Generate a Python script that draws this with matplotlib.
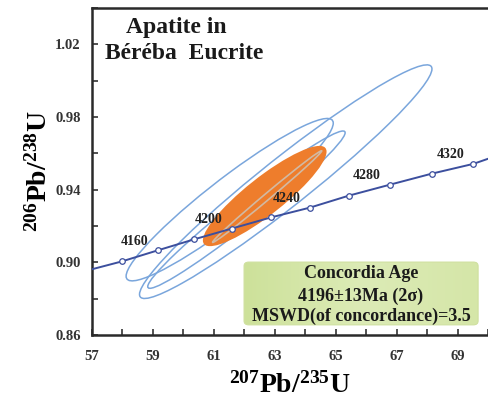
import numpy as np
import matplotlib
matplotlib.use("Agg")
import matplotlib.pyplot as plt
from matplotlib.patches import Ellipse, FancyBboxPatch
from matplotlib.ticker import MultipleLocator

plt.rcParams["font.family"] = ["Liberation Serif", "DejaVu Serif"]
plt.rcParams["font.weight"] = "bold"
plt.rcParams["mathtext.default"] = "regular"

# Concordia nodes (Ma)
ages = [4140, 4160, 4180, 4200, 4220, 4240, 4260, 4280, 4300, 4320]
node_x = [57.98, 59.16, 60.34, 61.59, 62.87, 64.15, 65.43, 66.77, 68.15, 69.52]
node_y = [0.9005, 0.9066, 0.9126, 0.9186, 0.9247, 0.9301, 0.9367, 0.9427, 0.9488, 0.9542]
labelled_ages = [4160, 4200, 4240, 4280, 4320]
# where the curve meets the frame
edge_x = [57.0, 70.0]
edge_y = [0.8962, 0.9570]

# data-point error ellipses: centre, half range in x / y, correlation
ell_cx = [63.36, 61.52, 62.07]
ell_cy = [0.9444, 0.9345, 0.9290]
ell_ex = [4.80, 3.40, 3.24]
ell_ey = [0.0643, 0.0447, 0.0433]
ell_rho = [0.965, 0.942, 0.978]

# concordia age ellipse (filled) and its thin grey outline
age_c = (62.67, 0.9365)
age_e = (2.03, 0.0276)
age_rho = 0.885
grey_c = (62.75, 0.9362)
grey_e = (1.79, 0.0252)
grey_rho = 0.996

box_lines = ["Concordia Age", "4196\u00b113Ma (2\u03c3)", "MSWD(of concordance)=3.5"]
box_line_y = [0.187, 0.118, 0.058]


def make_ellipse(cx, cy, ex, ey, rho, **kw):
    cov = np.array([[ex * ex, rho * ex * ey], [rho * ex * ey, ey * ey]])
    vals, vecs = np.linalg.eigh(cov)
    i = np.argmax(vals)
    angle = np.degrees(np.arctan2(vecs[1, i], vecs[0, i]))
    return Ellipse((cx, cy), 2 * np.sqrt(vals[i]), 2 * np.sqrt(vals[1 - i]),
                   angle=angle, **kw)


fig = plt.figure(figsize=(4.88, 4.0), dpi=100)
ax = fig.add_axes([92 / 488, 65 / 400, 396 / 488, 327 / 400])

ax.set_xlim(57, 70)
ax.set_ylim(0.86, 1.04)

# ellipses: blue data ellipses underneath, filled age ellipse on top
for cx, cy, ex, ey, r in zip(ell_cx, ell_cy, ell_ex, ell_ey, ell_rho):
    ax.add_patch(make_ellipse(cx, cy, ex, ey, r, facecolor="none",
                              edgecolor="#7aa6dc", lw=1.1, zorder=2))
ax.add_patch(make_ellipse(*age_c, *age_e, age_rho, facecolor="#ee7d2c",
                          edgecolor="none", zorder=3))
ax.add_patch(make_ellipse(*grey_c, *grey_e, grey_rho, facecolor="none",
                          edgecolor="#d2b9a2", lw=1.2, zorder=4))

# concordia curve
cx_all = [edge_x[0]] + node_x + [edge_x[1]]
cy_all = [edge_y[0]] + node_y + [edge_y[1]]
ax.plot(cx_all, cy_all, color="#3c4f9e", lw=1.4, zorder=5)
ax.plot(node_x, node_y, "o", ms=4, mfc="white", mec="#3c4f9e", mew=0.9, zorder=6)
for a, x, y in zip(ages, node_x, node_y):
    if a in labelled_ages:
        ax.annotate(str(a), (x, y), xytext=(-16.5, 6.5), textcoords="offset points",
                    ha="center", va="center", fontsize=10, fontweight="bold",
                    color="#222222", zorder=7)

# title
ax.text(0.212, 0.939, "Apatite in", transform=ax.transAxes, ha="center",
        va="center", fontsize=17, fontweight="bold", color="#1a1a1a")
ax.text(0.232, 0.862, "B\u00e9r\u00e9ba  Eucrite", transform=ax.transAxes,
        ha="center", va="center", fontsize=17, fontweight="bold", color="#1a1a1a")

# result box with a soft green gradient
box = FancyBboxPatch((0.384, 0.031), 0.591, 0.192, transform=ax.transAxes,
                     boxstyle="round,pad=0,rounding_size=0.012",
                     facecolor="none", edgecolor="#cfe09f", lw=0.8, zorder=8)
ax.add_patch(box)
grad = np.linspace(0, 1, 256).reshape(1, -1)
cmap = matplotlib.colors.LinearSegmentedColormap.from_list(
    "g", ["#cde19a", "#dcebb6", "#d5e6a8"])
img = ax.imshow(grad, cmap=cmap, extent=(0.384, 0.975, 0.031, 0.223),
                transform=ax.transAxes, aspect="auto", zorder=7)
img.set_clip_path(box)
for line, ty in zip(box_lines, box_line_y):
    ax.text(0.679, ty, line, transform=ax.transAxes, ha="center",
            va="center", fontsize=13, fontweight="bold", color="#1a1a1a", zorder=9)

# axes styling
ax.xaxis.set_minor_locator(MultipleLocator(1))
ax.yaxis.set_minor_locator(MultipleLocator(0.02))
ax.set_xticks([57, 59, 61, 63, 65, 67, 69])
ax.set_yticks([0.86, 0.90, 0.94, 0.98, 1.02])
ax.tick_params(which="both", direction="in", length=4, width=1.2, color="#333333",
               top=False, right=False)
ax.tick_params(axis="x", labelsize=10.5, pad=11)
ax.tick_params(axis="y", labelsize=10.5, pad=8)
for lab in ax.get_xticklabels() + ax.get_yticklabels():
    lab.set_fontweight("bold")
    lab.set_color("#333333")

for side in ["left", "bottom", "top"]:
    ax.spines[side].set_linewidth(1.8)
    ax.spines[side].set_color("#2a2a2a")
ax.spines["right"].set_visible(False)

ax.set_xlabel("$^{207}$Pb/$^{235}$U", fontsize=20, fontweight="bold", labelpad=6)
ax.set_ylabel("$^{206}$Pb/$^{238}$U", fontsize=20, fontweight="bold", labelpad=2)

fig.savefig("out.png", dpi=100)
